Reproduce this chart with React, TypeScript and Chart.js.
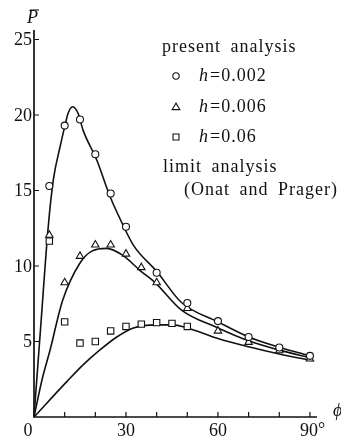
import { useEffect, useRef } from "react";
import { Chart, registerables } from "chart.js";

Chart.register(...registerables);

const SERIF = "'Liberation Serif', 'Times New Roman', serif";
const INK = "#111";

// Limit analysis (Onat and Prager): angle φ in degrees, load P̄
const limitAngleA = [0, 2.3, 4.6, 6.3, 8.5, 10.1, 11.1, 12.6, 14.4, 16, 20.5, 24.8, 28.7, 32.5, 40, 48, 60, 70, 80, 90.5];
const limitLoadA = [0, 6.3, 12.5, 15.7, 17.9, 19.3, 20.1, 20.55, 20.1, 19.0, 17.0, 14.6, 12.85, 11.35, 9.65, 7.6, 6.3, 5.3, 4.62, 4.02];

const limitAngleB = [0, 2.6, 5.2, 9.3, 15, 19, 23.7, 29, 34.6, 39.5, 48, 60, 70, 80, 90.5];
const limitLoadB = [0, 2.45, 4.4, 7.7, 10.2, 11.0, 11.17, 10.7, 9.7, 8.9, 7.1, 5.9, 5.05, 4.43, 3.9];

const limitAngleC = [0, 10.7, 16, 21.5, 27, 32.4, 40, 45, 50, 60, 70, 80, 91];
const limitLoadC = [0, 2.34, 3.45, 4.44, 5.3, 5.9, 6.1, 6.1, 5.9, 5.2, 4.65, 4.17, 3.73];

// Present analysis
const circleAngle = [5, 10, 15, 20, 25, 30, 40, 50, 60, 70, 80, 90];
const circleLoad = [15.3, 19.3, 19.7, 17.4, 14.8, 12.6, 9.55, 7.55, 6.35, 5.3, 4.6, 4.05];

const triangleAngle = [5, 10, 15, 20, 25, 30, 35, 40, 50, 60, 70, 80, 90];
const triangleLoad = [12.05, 8.9, 10.65, 11.4, 11.4, 10.8, 9.9, 8.9, 7.2, 5.7, 4.95, 4.4, 3.85];

const squareAngle = [5, 10, 15, 20, 25, 30, 35, 40, 45, 50];
const squareLoad = [11.65, 6.3, 4.9, 5.0, 5.7, 6.0, 6.15, 6.25, 6.2, 6.0];

// Axis ticks and labels
const xTickValues = [10, 20, 30, 40, 50, 60, 70, 80, 90];
const xLabelValues = [0, 30, 60, 90];
const yTickValues = [5, 10, 15, 20, 25];
const xMax = 92.3;
const yMax = 25.63;

const legendRows = [
  { style: "circle", label: "0.002" },
  { style: "triangle", label: "0.006" },
  { style: "rect", label: "0.06" },
];

const toPoints = (xs: number[], ys: number[]) => xs.map((x, i) => ({ x, y: ys[i] }));

function drawMarker(ctx: CanvasRenderingContext2D, style: string, cx: number, cy: number, r: number) {
  ctx.beginPath();
  if (style === "circle") {
    ctx.arc(cx, cy, r, 0, Math.PI * 2);
  } else if (style === "triangle") {
    const h = r * 1.7;
    ctx.moveTo(cx, cy - h * 0.6);
    ctx.lineTo(cx + r, cy + h * 0.4);
    ctx.lineTo(cx - r, cy + h * 0.4);
    ctx.closePath();
  } else {
    ctx.rect(cx - r, cy - r, 2 * r, 2 * r);
  }
  ctx.fillStyle = "#fff";
  ctx.fill();
  ctx.stroke();
}

const axesPlugin = {
  id: "axesPlugin",
  beforeDatasetsDraw(chart: any) {
    const { ctx, chartArea, scales } = chart;
    const xs = scales.x;
    const ys = scales.y;
    const x0 = xs.getPixelForValue(0);
    const y0 = ys.getPixelForValue(0);
    ctx.save();
    ctx.strokeStyle = INK;
    ctx.lineWidth = 1.7;
    ctx.beginPath();
    ctx.moveTo(x0, chartArea.top);
    ctx.lineTo(x0, y0);
    ctx.lineTo(chartArea.right, y0);
    ctx.stroke();

    ctx.lineWidth = 1.2;
    ctx.beginPath();
    for (const v of xTickValues) {
      const px = xs.getPixelForValue(v);
      ctx.moveTo(px, y0);
      ctx.lineTo(px, y0 - 5);
    }
    for (const v of yTickValues) {
      const py = ys.getPixelForValue(v);
      ctx.moveTo(x0, py);
      ctx.lineTo(x0 + 5, py);
    }
    ctx.stroke();

    ctx.fillStyle = INK;
    ctx.font = `18px ${SERIF}`;
    ctx.textBaseline = "middle";
    ctx.textAlign = "right";
    for (const v of yTickValues) {
      ctx.fillText(String(v), x0 - 2, ys.getPixelForValue(v) + 1);
    }
    ctx.textAlign = "center";
    const labelY = y0 + 14;
    for (const v of xLabelValues) {
      const px = xs.getPixelForValue(v);
      if (v === 0) {
        ctx.fillText("0", px - 6, labelY);
      } else if (v === 90) {
        ctx.fillText("90", px - 1, labelY);
        const w = ctx.measureText("90").width;
        ctx.textAlign = "left";
        ctx.fillText("°", px - 1 + w / 2, labelY - 1);
        ctx.textAlign = "center";
      } else {
        ctx.fillText(String(v), px, labelY);
      }
    }

    // axis titles
    ctx.textAlign = "left";
    ctx.font = `italic 18px ${SERIF}`;
    ctx.fillText("P", x0 - 7, chartArea.top - 12);
    ctx.lineWidth = 1.1;
    ctx.beginPath();
    ctx.moveTo(x0 - 4, chartArea.top - 20);
    ctx.lineTo(x0 + 5, chartArea.top - 20);
    ctx.stroke();
    ctx.fillText("ϕ", chartArea.right + 16, y0 - 6);
    ctx.restore();
  },
  afterDraw(chart: any) {
    const { ctx } = chart;
    ctx.save();
    ctx.fillStyle = INK;
    ctx.strokeStyle = INK;
    ctx.textBaseline = "middle";
    ctx.textAlign = "left";
    ctx.font = `18px ${SERIF}`;
    (ctx as any).letterSpacing = "1px";
    (ctx as any).wordSpacing = "4px";
    ctx.fillText("present analysis", 162, 47);

    const rowY = [76, 107, 137];
    legendRows.forEach((row, i) => {
      ctx.lineWidth = 1.1;
      const r = row.style === "rect" ? 3 : row.style === "triangle" ? 3.8 : 3.2;
      drawMarker(ctx, row.style, 176, rowY[i], r);
      ctx.fillStyle = INK;
      ctx.font = `italic 18px ${SERIF}`;
      ctx.fillText("h", 199, rowY[i]);
      const hw = ctx.measureText("h").width;
      ctx.font = `18px ${SERIF}`;
      ctx.fillText("=" + row.label, 199 + hw + 1, rowY[i]);
    });

    ctx.fillText("limit analysis", 163, 167);
    ctx.fillText("(Onat and Prager)", 184, 190);
    ctx.restore();
  },
};

export default function App() {
  const canvasRef = useRef<HTMLCanvasElement | null>(null);

  useEffect(() => {
    const canvas = canvasRef.current;
    if (!canvas) return;

    const markerSet = (data: any, style: string, radius: number) => ({
      data,
      showLine: false,
      pointStyle: style,
      pointRadius: radius,
      pointBackgroundColor: "#fff",
      pointBorderColor: INK,
      pointBorderWidth: 1.1,
      clip: false,
    });
    const curveSet = (data: any) => ({
      data,
      showLine: true,
      pointRadius: 0,
      borderColor: INK,
      borderWidth: 1.6,
      cubicInterpolationMode: "monotone",
      fill: false,
      clip: false,
    });

    const chart = new Chart(canvas, {
      type: "scatter",
      data: {
        datasets: [
          markerSet(toPoints(circleAngle, circleLoad), "circle", 3.5),
          markerSet(toPoints(triangleAngle, triangleLoad), "triangle", 4.3),
          markerSet(toPoints(squareAngle, squareLoad), "rect", 4.5),
          curveSet(toPoints(limitAngleA, limitLoadA)),
          curveSet(toPoints(limitAngleB, limitLoadB)),
          curveSet(toPoints(limitAngleC, limitLoadC)),
        ] as any,
      },
      options: {
        animation: false,
        responsive: false,
        devicePixelRatio: 1,
        events: [],
        layout: { padding: { left: 34, right: 24, top: 30, bottom: 22 } },
        plugins: { legend: { display: false }, tooltip: { enabled: false } },
        scales: {
          x: { type: "linear", min: 0, max: xMax, display: false },
          y: { type: "linear", min: 0, max: yMax, display: false },
        },
      },
      plugins: [axesPlugin],
    });

    return () => chart.destroy();
  }, []);

  return (
    <canvas
      ref={canvasRef}
      width={341}
      height={439}
      style={{ position: "fixed", left: 0, top: 0, display: "block", background: "#fff" }}
    />
  );
}
